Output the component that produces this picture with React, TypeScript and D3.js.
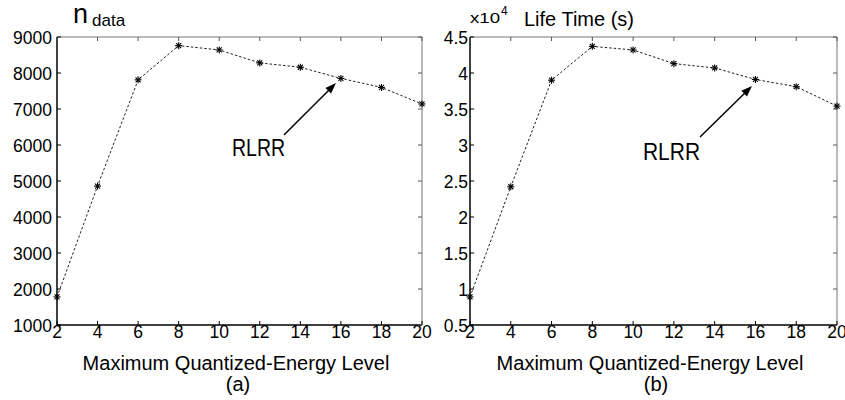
import React from "react";
import * as d3 from "d3";

const levels = [2, 4, 6, 8, 10, 12, 14, 16, 18, 20];
const nData = [1780, 4860, 7810, 8760, 8640, 8280, 8160, 7850, 7600, 7140];
const lifeTime = [0.89, 2.42, 3.9, 4.37, 4.32, 4.13, 4.07, 3.91, 3.81, 3.54];
const xTicks = [2, 4, 6, 8, 10, 12, 14, 16, 18, 20];
const yTicksA = [1000, 2000, 3000, 4000, 5000, 6000, 7000, 8000, 9000];
const yTicksB = [0.5, 1, 1.5, 2, 2.5, 3, 3.5, 4, 4.5];
const yLabelsB = ["0.5", "1", "1.5", "2", "2.5", "3", "3.5", "4", "4.5"];
const xLabel = "Maximum Quantized-Energy Level";
const annotation = "RLRR";

const FONT = "'Liberation Sans', Arial, Helvetica, sans-serif";

type PanelProps = {
  left: number;
  right: number;
  top: number;
  bottom: number;
  values: number[];
  yDomain: [number, number];
  yTicks: number[];
  yLabels: string[];
  yLabelGap: number;
  caption: string;
  labelCenter: number;
  captionCenter: number;
  arrowFrom: [number, number];
  arrowTo: [number, number];
  textX: number;
  textY: number;
  textLen: number;
};

function Star({ x, y }: { x: number; y: number }) {
  const s = 3.5;
  const d = 2.5;
  return (
    <g stroke="#000" strokeWidth={1.1}>
      <line x1={x - s} y1={y} x2={x + s} y2={y} />
      <line x1={x} y1={y - s} x2={x} y2={y + s} />
      <line x1={x - d} y1={y - d} x2={x + d} y2={y + d} />
      <line x1={x - d} y1={y + d} x2={x + d} y2={y - d} />
    </g>
  );
}

function Panel(p: PanelProps) {
  const x = d3.scaleLinear().domain([2, 20]).range([p.left, p.right]);
  const y = d3.scaleLinear().domain(p.yDomain).range([p.bottom, p.top]);
  const pts = levels.map((l, i) => [x(l), y(p.values[i])] as [number, number]);
  const line = d3.line()(pts) || "";
  const tl = 4;
  const [ax, ay] = p.arrowFrom;
  const [bx, by] = p.arrowTo;
  const ang = Math.atan2(by - ay, bx - ax);
  const hl = 11;
  const hw = 4;
  const h1 = [bx - hl * Math.cos(ang) + hw * Math.sin(ang), by - hl * Math.sin(ang) - hw * Math.cos(ang)];
  const h2 = [bx - hl * Math.cos(ang) - hw * Math.sin(ang), by - hl * Math.sin(ang) + hw * Math.cos(ang)];
  return (
    <g>
      {/* box */}
      <line x1={p.left} y1={p.top} x2={p.right} y2={p.top} stroke="#777" strokeWidth={1} />
      <line x1={p.right} y1={p.top} x2={p.right} y2={p.bottom} stroke="#777" strokeWidth={1} />
      <line x1={p.left} y1={p.top} x2={p.left} y2={p.bottom} stroke="#000" strokeWidth={1.5} />
      <line x1={p.left} y1={p.bottom} x2={p.right} y2={p.bottom} stroke="#000" strokeWidth={1.5} />
      {xTicks.map((t) => (
        <g key={"xt" + t}>
          <line x1={x(t)} x2={x(t)} y1={p.bottom} y2={p.bottom - tl} stroke="#000" />
          <line x1={x(t)} x2={x(t)} y1={p.top} y2={p.top + tl} stroke="#555" />
          <text x={x(t)} y={p.bottom + 13} fontSize={17.5} textAnchor="middle" fontFamily={FONT}>
            {t}
          </text>
        </g>
      ))}
      {p.yTicks.map((t, i) => (
        <g key={"yt" + t}>
          <line x1={p.left} x2={p.left + tl} y1={y(t)} y2={y(t)} stroke="#000" />
          <line x1={p.right} x2={p.right - tl} y1={y(t)} y2={y(t)} stroke="#555" />
          <text
            x={p.left - p.yLabelGap}
            y={y(t) + 6.5}
            fontSize={17.5}
            textAnchor="end"
            fontFamily={FONT}
          >
            {p.yLabels[i]}
          </text>
        </g>
      ))}
      <path d={line} fill="none" stroke="#222" strokeWidth={1} strokeDasharray="2.5,2" />
      {pts.map(([px, py], i) => (
        <Star key={"m" + i} x={px} y={py} />
      ))}
      <line x1={ax} y1={ay} x2={bx - 6 * Math.cos(ang)} y2={by - 6 * Math.sin(ang)} stroke="#000" strokeWidth={1.5} />
      <polygon points={`${bx},${by} ${h1[0]},${h1[1]} ${h2[0]},${h2[1]}`} fill="#000" />
      <text
        x={p.textX}
        y={p.textY}
        fontSize={23}
        fontFamily={FONT}
        textLength={p.textLen}
        lengthAdjust="spacingAndGlyphs"
      >
        {annotation}
      </text>
      <text x={p.labelCenter} y={370} fontSize={20} textAnchor="middle" fontFamily={FONT}>
        {xLabel}
      </text>
      <text x={p.captionCenter} y={391} fontSize={20} textAnchor="middle" fontFamily={FONT}>
        {p.caption}
      </text>
    </g>
  );
}

export default function App() {
  return (
    <svg
      width={845}
      height={400}
      style={{ position: "absolute", left: 0, top: 0, background: "#fff" }}
    >
      <rect x={0} y={0} width={845} height={400} fill="#fff" />
      <Panel
        left={57}
        right={422}
        top={37}
        bottom={325}
        values={nData}
        yDomain={[1000, 9000]}
        yTicks={yTicksA}
        yLabels={yTicksA.map((v) => String(v))}
        yLabelGap={5}
        caption="(a)"
        labelCenter={236}
        captionCenter={238}
        arrowFrom={[284, 135]}
        arrowTo={[336, 83]}
        textX={232}
        textY={156}
        textLen={53}
      />
      <Panel
        left={470}
        right={837}
        top={37}
        bottom={325}
        values={lifeTime}
        yDomain={[0.5, 4.5]}
        yTicks={yTicksB}
        yLabels={yLabelsB}
        yLabelGap={2}
        caption="(b)"
        labelCenter={650}
        captionCenter={656}
        arrowFrom={[700, 137]}
        arrowTo={[752, 86]}
        textX={643}
        textY={160}
        textLen={57}
      />
      {/* titles */}
      <text x={73} y={23} fontSize={27} fontFamily={FONT}>
        n
      </text>
      <text x={92} y={26} fontSize={17} fontFamily={FONT}>
        data
      </text>
      <text x={470} y={23} fontSize={15} fontFamily={FONT} textLength={30} lengthAdjust="spacingAndGlyphs">
        x10
      </text>
      <text x={501} y={15} fontSize={12} fontFamily={FONT}>
        4
      </text>
      <text x={524} y={26} fontSize={20} fontFamily={FONT} textLength={110} lengthAdjust="spacingAndGlyphs">
        Life Time (s)
      </text>
    </svg>
  );
}
